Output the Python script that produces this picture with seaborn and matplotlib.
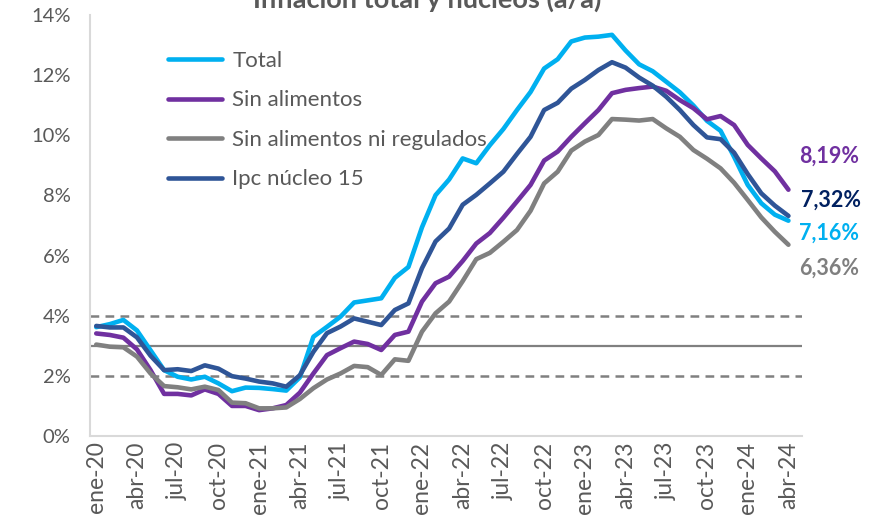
import numpy as np
import pandas as pd
import matplotlib.pyplot as plt
import seaborn as sns

# Monthly annual inflation (%), ene-20 .. abr-24
meses = ['ene', 'feb', 'mar', 'abr', 'may', 'jun', 'jul', 'ago', 'sep', 'oct', 'nov', 'dic']
fechas = [f'{m}-{a}' for a in ['20', '21', '22', '23', '24'] for m in meses][:52]

total = [3.62, 3.72, 3.86, 3.51, 2.85, 2.19, 1.97, 1.88, 1.97, 1.75, 1.49, 1.61,
         1.60, 1.56, 1.51, 1.95, 3.30, 3.63, 3.97, 4.44, 4.51, 4.58, 5.26, 5.62,
         6.94, 8.01, 8.53, 9.23, 9.07, 9.67, 10.21, 10.84, 11.44, 12.22, 12.53, 13.12,
         13.25, 13.28, 13.34, 12.82, 12.36, 12.13, 11.78, 11.43, 10.99, 10.48, 10.15, 9.28,
         8.35, 7.74, 7.36, 7.16]

sin_alimentos = [3.41, 3.36, 3.27, 2.88, 2.19, 1.40, 1.40, 1.35, 1.55, 1.40, 1.00, 1.00,
                 0.86, 0.92, 1.03, 1.44, 2.08, 2.69, 2.92, 3.14, 3.06, 2.86, 3.36, 3.47,
                 4.47, 5.08, 5.30, 5.82, 6.40, 6.75, 7.26, 7.80, 8.35, 9.16, 9.46, 9.95,
                 10.40, 10.84, 11.40, 11.51, 11.57, 11.62, 11.48, 11.17, 10.90, 10.53, 10.64, 10.34,
                 9.68, 9.23, 8.80, 8.19]

sin_alim_regulados = [3.04, 2.97, 2.95, 2.64, 2.08, 1.66, 1.62, 1.55, 1.64, 1.53, 1.11, 1.09,
                      0.92, 0.92, 0.95, 1.23, 1.59, 1.88, 2.08, 2.33, 2.29, 2.03, 2.55, 2.50,
                      3.47, 4.08, 4.47, 5.15, 5.88, 6.09, 6.46, 6.85, 7.49, 8.40, 8.79, 9.49,
                      9.79, 10.01, 10.54, 10.52, 10.49, 10.54, 10.23, 9.95, 9.51, 9.22, 8.90, 8.42,
                      7.85, 7.27, 6.79, 6.36]

nucleo_15 = [3.66, 3.61, 3.61, 3.28, 2.67, 2.19, 2.22, 2.16, 2.35, 2.24, 1.99, 1.91,
             1.81, 1.75, 1.64, 2.02, 2.80, 3.42, 3.64, 3.91, 3.80, 3.69, 4.19, 4.41,
             5.58, 6.47, 6.90, 7.69, 8.02, 8.40, 8.79, 9.38, 9.95, 10.84, 11.08, 11.55,
             11.84, 12.17, 12.43, 12.25, 11.92, 11.65, 11.28, 10.84, 10.34, 9.93, 9.87, 9.42,
             8.71, 8.07, 7.66, 7.32]

series = ['Total', 'Sin alimentos', 'Sin alimentos ni regulados', 'Ipc núcleo 15']
colores = {'Total': '#00B0F0', 'Sin alimentos': '#7030A0',
           'Sin alimentos ni regulados': '#808080', 'Ipc núcleo 15': '#2F5597'}
# colours of the end-value labels
colores_etiqueta = {'Total': '#00B0F0', 'Sin alimentos': '#7030A0',
                    'Sin alimentos ni regulados': '#7F7F7F', 'Ipc núcleo 15': '#002060'}
# offsets (points) of the end-value labels from the last point
offsets = {'Total': (29, -9), 'Sin alimentos': (29, 24),
           'Sin alimentos ni regulados': (29, -17), 'Ipc núcleo 15': (31, 11)}

meta_centro = 3.0
meta_banda = [2.0, 4.0]

df = pd.DataFrame({'idx': np.arange(len(fechas)), 'fecha': fechas,
                   'Total': total, 'Sin alimentos': sin_alimentos,
                   'Sin alimentos ni regulados': sin_alim_regulados,
                   'Ipc núcleo 15': nucleo_15})
df_long = df.melt(id_vars=['idx', 'fecha'], value_vars=series, var_name='serie', value_name='valor')

sns.set_theme(style='white')
plt.rcParams['font.family'] = ['Lato', 'DejaVu Sans']

fig = plt.figure(figsize=(8.79, 5.21), dpi=100)
ax = fig.add_axes([90 / 879, 85 / 521, 712 / 879, 421 / 521])

# target band lines
for v in meta_banda:
    ax.axhline(v, color='#808080', lw=1.8, ls=(0, (3.5, 2.5)), zorder=1)
ax.axhline(meta_centro, color='#808080', lw=1.6, zorder=1)

sns.lineplot(data=df_long, x='idx', y='valor', hue='serie', hue_order=series,
             palette=colores, lw=3.3, ax=ax, zorder=3, legend=True)

ax.set_xlim(-0.46, 52.0)
ax.set_ylim(0, 14)
ax.set_yticks(np.arange(0, 15, 2))
ax.set_yticklabels([f'{int(t)}%' for t in np.arange(0, 15, 2)])
ax.set_xticks(df.idx[::3])
ax.set_xticklabels(df.fecha[::3], rotation=90)
ax.tick_params(axis='both', length=0, labelcolor='#595959')
ax.tick_params(axis='y', pad=14, labelsize=14.5)
ax.tick_params(axis='x', pad=4, labelsize=16.5)
ax.set_xlabel('')
ax.set_ylabel('')

for s in ['top', 'right']:
    ax.spines[s].set_visible(False)
for s in ['left', 'bottom']:
    ax.spines[s].set_color('#D9D9D9')
    ax.spines[s].set_linewidth(1.5)

leg = ax.legend(loc='upper left', bbox_to_anchor=(0.097, 0.936), frameon=False,
                fontsize=16, handlelength=2.45, handletextpad=0.45, labelspacing=0.88,
                borderaxespad=0)
for t in leg.get_texts():
    t.set_color('#595959')
for h in leg.get_lines():
    h.set_linewidth(3.3)

# end-of-series value labels
for s in series:
    last = df[s].iloc[-1]
    ax.annotate(f'{last:.2f}%'.replace('.', ','), xy=(df.idx.iloc[-1], last),
                xytext=offsets[s], textcoords='offset points', ha='center', va='center',
                fontsize=15.5, fontweight='bold', color=colores_etiqueta[s],
                annotation_clip=False)

# title sits partly above the top edge, as in the source image
fig.text(0.486, 1 - 8 / 521, 'Inflación total y núcleos (a/a)', ha='center', va='baseline',
         fontsize=19.5, fontweight='bold', color='#595959')

fig.savefig('out.png', dpi=100)
